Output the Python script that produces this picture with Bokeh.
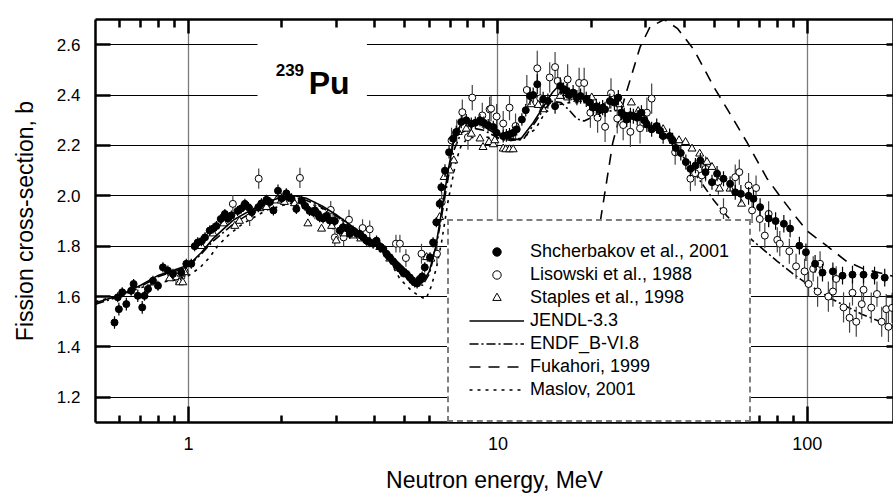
from bokeh.plotting import figure
from bokeh.models import (Range1d, FixedTicker, LinearAxis, LogAxis, Legend, LegendItem,
                          Label, BoxAnnotation, BasicTickFormatter, NumeralTickFormatter)
from bokeh.embed import file_html
from bokeh.resources import INLINE

FONT = "Liberation Sans"
SOLID = "1000 0"

# ---------------- axes / ticks ----------------
x_start, x_end = 0.5, 190
y_start, y_end = 1.1, 2.7
x_ticks = [1, 10, 100]
x_minor = [0.6, 0.7, 0.8, 0.9, 2, 3, 4, 5, 6, 7, 8, 9, 20, 30, 40, 50, 60, 70, 80, 90]
y_ticks = [1.2, 1.4, 1.6, 1.8, 2.0, 2.2, 2.4, 2.6]

# ---------------- Shcherbakov et al., 2001 ----------------
sh_e = [0.576, 0.59, 0.595, 0.61, 0.629, 0.652, 0.664, 0.685, 0.708, 0.72,
        0.739, 0.767, 0.796, 0.826, 0.857, 0.89, 0.947, 0.983, 1.02, 1.046,
        1.07, 1.10, 1.13, 1.17, 1.20, 1.23, 1.27, 1.31, 1.34, 1.375,
        1.44, 1.48, 1.52, 1.56, 1.60, 1.68, 1.72, 1.785, 1.83, 1.88,
        1.945, 2.0, 2.07, 2.1, 2.15, 2.23, 2.32, 2.38, 2.46, 2.53,
        2.56, 2.62, 2.65, 2.72, 2.79, 2.86, 2.97, 3.08, 3.16, 3.25,
        3.32, 3.4, 3.5, 3.57, 3.67, 3.76, 3.85, 3.95, 4.05, 4.15,
        4.26, 4.36, 4.47, 4.58, 4.7, 4.82, 4.94, 5.06, 5.19, 5.28,
        5.38, 5.48, 5.59, 5.69, 5.8, 6.03, 6.17, 6.32, 6.48, 6.56,
        6.74, 6.95, 7.16, 7.33, 7.61, 7.9, 8.2, 8.45, 8.75, 9.0,
        9.3, 9.66, 9.9, 10.4, 10.65, 10.9, 11.2, 11.5, 11.95, 12.3,
        12.7, 13.0, 13.4, 14.0, 14.5, 15.3, 15.9, 16.3, 16.7, 17.0,
        17.5, 18.0, 18.5, 19.3, 19.8, 20.3, 20.8, 21.3, 21.8, 22.2,
        23.0, 23.8, 24.5, 25.1, 25.6, 26.1, 26.8, 27.4, 28.2, 29.1,
        29.7, 30.3, 31.4, 32.6, 33.3, 34.2, 35.9, 36.7, 37.6, 39.0,
        40.5, 41.9, 43.5, 45.1, 46.9, 49.2, 51.1, 53.6, 56.3, 58.5,
        61.0, 64.6, 67.0, 70.4, 75.0, 79.0, 84.0, 88.0, 94.3, 99.0,
        106, 112, 121, 130, 140, 152, 165, 178]
sh_s = [1.497, 1.597, 1.55, 1.617, 1.57, 1.623, 1.65, 1.603, 1.557, 1.603,
        1.63, 1.663, 1.643, 1.716, 1.703, 1.69, 1.696, 1.73, 1.73, 1.80,
        1.815, 1.82, 1.835, 1.862, 1.87, 1.88, 1.908, 1.928, 1.91, 1.922,
        1.94, 1.95, 1.968, 1.955, 1.935, 1.955, 1.97, 1.984, 1.975, 1.942,
        2.02, 1.99, 2.01, 1.995, 1.99, 1.948, 1.98, 1.96, 1.94, 1.935,
        1.94, 1.928, 1.915, 1.91, 1.92, 1.902, 1.90, 1.862, 1.875, 1.87,
        1.849, 1.862, 1.85, 1.849, 1.835, 1.822, 1.816, 1.81, 1.822, 1.80,
        1.789, 1.77, 1.756, 1.74, 1.723, 1.71, 1.696, 1.69, 1.676, 1.665,
        1.656, 1.652, 1.67, 1.68, 1.716, 1.756, 1.815, 1.895, 1.968, 2.034,
        2.10, 2.173, 2.227, 2.253, 2.293, 2.30, 2.286, 2.29, 2.30, 2.29,
        2.28, 2.273, 2.25, 2.237, 2.24, 2.244, 2.25, 2.264, 2.303, 2.34,
        2.396, 2.40, 2.443, 2.383, 2.376, 2.356, 2.436, 2.42, 2.416, 2.40,
        2.41, 2.39, 2.396, 2.383, 2.37, 2.35, 2.355, 2.343, 2.35, 2.343,
        2.376, 2.37, 2.39, 2.33, 2.32, 2.303, 2.32, 2.316, 2.31, 2.33,
        2.30, 2.283, 2.264, 2.277, 2.26, 2.237, 2.237, 2.22, 2.19, 2.17,
        2.134, 2.107, 2.12, 2.14, 2.094, 2.054, 2.088, 2.068, 2.048, 2.014,
        2.008, 2.0, 1.988, 1.955, 1.91, 1.90, 1.889, 1.87, 1.802, 1.776,
        1.73, 1.695, 1.70, 1.683, 1.687, 1.687, 1.683, 1.675]
sh_err = [0.025, 0.02, 0.025, 0.02, 0.025, 0.02, 0.02, 0.025, 0.025, 0.02,
          0.02, 0.02, 0.02, 0.02, 0.02, 0.02, 0.02, 0.02, 0.02, 0.02,
          0.02, 0.02, 0.02, 0.02, 0.02, 0.02, 0.02, 0.02, 0.02, 0.02,
          0.02, 0.02, 0.02, 0.02, 0.02, 0.02, 0.02, 0.02, 0.02, 0.02,
          0.025, 0.02, 0.02, 0.02, 0.02, 0.02, 0.02, 0.02, 0.02, 0.02,
          0.02, 0.02, 0.02, 0.02, 0.02, 0.02, 0.02, 0.02, 0.02, 0.02,
          0.02, 0.02, 0.02, 0.02, 0.02, 0.02, 0.02, 0.02, 0.02, 0.02,
          0.02, 0.02, 0.02, 0.02, 0.02, 0.02, 0.02, 0.02, 0.02, 0.02,
          0.02, 0.02, 0.02, 0.02, 0.02, 0.02, 0.02, 0.02, 0.02, 0.02,
          0.025, 0.025, 0.025, 0.025, 0.025, 0.025, 0.025, 0.025, 0.025, 0.025,
          0.025, 0.025, 0.025, 0.025, 0.025, 0.025, 0.025, 0.025, 0.025, 0.025,
          0.035, 0.03, 0.04, 0.03, 0.03, 0.03, 0.035, 0.03, 0.03, 0.03,
          0.03, 0.03, 0.03, 0.03, 0.03, 0.03, 0.03, 0.03, 0.03, 0.03,
          0.03, 0.03, 0.03, 0.03, 0.03, 0.03, 0.03, 0.03, 0.03, 0.03,
          0.03, 0.03, 0.03, 0.03, 0.03, 0.03, 0.03, 0.03, 0.03, 0.03,
          0.03, 0.03, 0.03, 0.03, 0.03, 0.03, 0.03, 0.03, 0.03, 0.03,
          0.035, 0.035, 0.035, 0.035, 0.035, 0.035, 0.035, 0.035, 0.035, 0.035,
          0.035, 0.035, 0.035, 0.035, 0.035, 0.035, 0.035, 0.035]

# ---------------- Lisowski et al., 1988 ----------------
li_e = [0.91, 0.97, 1.39, 1.575, 1.685, 2.29, 2.56, 2.88, 2.93, 2.97,
        3.16, 3.17, 3.3, 3.65, 3.85, 4.68, 4.82, 5.04, 5.66, 6.35,
        6.58, 7.08, 7.36, 7.67, 8.0, 8.26, 8.9, 9.4, 9.5, 9.9,
        10.4, 10.9, 11.4, 12.4, 13.4, 13.7, 14.7, 15.3, 15.6, 16.8,
        18.3, 19.0, 19.9, 21.0, 22.2, 23.2, 24.3, 25.4, 26.8, 28.8,
        30.3, 31.4, 37.4, 41.9, 43.4, 45.6, 46.9, 51.6, 53.6, 58.5,
        60.3, 64.6, 66.3, 68.3, 70.2, 72.9, 75.0, 80.0, 81.5, 87.5,
        92.0, 98.0, 101, 104.5, 108, 110, 117, 121, 124, 131,
        137, 140, 144, 150, 152, 161, 168, 174, 180, 183,
        188]
li_s = [1.68, 1.70, 1.968, 1.915, 2.068, 2.071, 1.942, 1.944, 1.90, 1.835,
        1.875, 1.835, 1.905, 1.872, 1.867, 1.81, 1.81, 1.753, 1.77, 1.77,
        1.975, 2.22, 2.253, 2.332, 2.233, 2.39, 2.319, 2.343, 2.346, 2.315,
        2.287, 2.35, 2.277, 2.42, 2.506, 2.387, 2.47, 2.511, 2.456, 2.462,
        2.448, 2.448, 2.33, 2.31, 2.274, 2.407, 2.307, 2.281, 2.254, 2.268,
        2.33, 2.386, 2.173, 2.068, 2.09, 2.081, 2.107, 2.054, 1.94, 2.074,
        2.094, 2.041, 1.942, 2.031, 1.908, 1.842, 1.928, 1.825, 1.81, 1.78,
        1.72, 1.70, 1.65, 1.71, 1.62, 1.73, 1.60, 1.62, 1.67, 1.557,
        1.516, 1.615, 1.50, 1.57, 1.627, 1.556, 1.61, 1.50, 1.55, 1.48,
        1.555]
li_err = [0.03, 0.03, 0.035, 0.035, 0.04, 0.04, 0.035, 0.035, 0.035, 0.035,
          0.035, 0.035, 0.04, 0.035, 0.035, 0.035, 0.035, 0.035, 0.04, 0.04,
          0.04, 0.05, 0.05, 0.05, 0.05, 0.05, 0.05, 0.05, 0.05, 0.05,
          0.05, 0.05, 0.05, 0.06, 0.07, 0.06, 0.06, 0.06, 0.06, 0.06,
          0.06, 0.06, 0.06, 0.06, 0.06, 0.06, 0.06, 0.06, 0.06, 0.06,
          0.06, 0.06, 0.05, 0.05, 0.05, 0.05, 0.05, 0.05, 0.05, 0.05,
          0.05, 0.05, 0.05, 0.05, 0.05, 0.05, 0.05, 0.05, 0.05, 0.05,
          0.05, 0.05, 0.05, 0.05, 0.06, 0.05, 0.06, 0.06, 0.05, 0.06,
          0.06, 0.05, 0.06, 0.06, 0.05, 0.06, 0.05, 0.06, 0.06, 0.06,
          0.06]

# ---------------- Staples et al., 1998 ----------------
st_e = [0.868, 0.935, 0.947, 0.958, 0.97, 1.1, 1.2, 1.3, 1.41, 1.46,
        1.60, 1.7, 1.785, 1.92, 1.995, 2.04, 2.2, 2.43, 2.69, 2.9,
        3.0, 3.2, 3.4, 3.6, 3.85, 4.15, 4.47, 5.0, 5.5, 5.88,
        6.07, 6.48, 6.7, 7.0, 7.2, 7.44, 7.9, 8.2, 8.75, 8.95,
        9.36, 9.66, 9.77, 10.4, 10.6, 10.9, 11.2, 12.8, 13.5, 14.0,
        15.9, 16.8, 18.1, 20.1, 22.0, 24.8, 27.0, 28.4, 30.0, 32.0,
        34.2, 37.0, 38.5, 40.4, 42.4, 44.9, 47.4, 49.2, 52.0, 56.3,
        61.3]
st_s = [1.672, 1.656, 1.69, 1.656, 1.696, 1.80, 1.85, 1.89, 1.88, 1.90,
        1.942, 1.95, 1.955, 1.981, 1.981, 1.975, 1.97, 1.89, 1.869, 1.88,
        1.822, 1.85, 1.842, 1.83, 1.816, 1.796, 1.75, 1.69, 1.66, 1.756,
        1.75, 1.915, 2.074, 2.10, 2.14, 2.253, 2.266, 2.246, 2.227, 2.193,
        2.213, 2.204, 2.22, 2.187, 2.184, 2.184, 2.184, 2.363, 2.36, 2.343,
        2.396, 2.39, 2.383, 2.39, 2.35, 2.363, 2.37, 2.336, 2.30, 2.27,
        2.264, 2.22, 2.22, 2.213, 2.187, 2.167, 2.134, 2.114, 2.028, 2.028,
        1.968]

# ---------------- evaluations ----------------
jendl_e = [0.5, 0.6, 0.7, 0.8, 0.9, 1.0, 1.1, 1.2, 1.3, 1.4, 1.6, 1.8, 2.0, 2.2, 2.4,
           2.7, 3.0, 3.5, 4.0, 4.5, 5.0, 5.4, 5.7, 6.0, 6.3, 6.6, 6.9, 7.2, 7.6, 8.1,
           8.9, 9.7, 10.6, 11.8, 13.0, 14.0, 15.0, 15.8, 16.5, 17.3, 18.3, 20.0]
jendl_s = [1.575, 1.605, 1.645, 1.685, 1.705, 1.725, 1.775, 1.83, 1.87, 1.905, 1.945, 1.975, 1.995, 2.0, 1.99,
           1.96, 1.925, 1.865, 1.81, 1.765, 1.71, 1.665, 1.655, 1.70, 1.80, 1.95, 2.10, 2.22, 2.286, 2.30,
           2.28, 2.25, 2.228, 2.223, 2.29, 2.352, 2.41, 2.44, 2.435, 2.41, 2.39, 2.38]

endf_e = [0.5, 0.6, 0.7, 0.8, 0.9, 1.0, 1.1, 1.2, 1.4, 1.6, 1.8, 2.0, 2.3, 2.6, 3.0,
          3.5, 4.0, 4.5, 5.0, 5.4, 5.7, 6.0, 6.3, 6.6, 6.9, 7.2, 7.6, 8.2, 9.0, 10.0,
          11.0, 12.1, 13.0, 14.0, 15.0, 16.0, 17.0, 18.0, 19.0, 20.0, 22.0, 25.0, 30.0, 35.0, 40.0,
          45.0, 50.0, 55.0, 60.0, 70.0, 80.0, 90.0, 100, 120, 150, 190]
endf_s = [1.57, 1.60, 1.64, 1.68, 1.70, 1.72, 1.77, 1.82, 1.89, 1.935, 1.965, 1.985, 1.99, 1.965, 1.92,
          1.86, 1.805, 1.76, 1.70, 1.655, 1.645, 1.69, 1.79, 1.93, 2.07, 2.18, 2.25, 2.27, 2.26, 2.23,
          2.22, 2.225, 2.28, 2.34, 2.375, 2.37, 2.34, 2.305, 2.297, 2.31, 2.335, 2.34, 2.29, 2.23, 2.15,
          2.06, 1.98, 1.92, 1.87, 1.80, 1.74, 1.69, 1.65, 1.59, 1.53, 1.48]

fuka_e = [19.5, 20.5, 21.5, 23.5, 25.7, 28.8, 31.0, 34.5, 38.0, 43.0, 50.0, 56.0, 64.0, 74.0,
          82.0, 90.0, 100, 116, 134, 152, 177, 190]
fuka_s = [1.45, 1.68, 1.91, 2.21, 2.39, 2.59, 2.67, 2.70, 2.665, 2.58, 2.43, 2.33, 2.21, 2.07,
          1.995, 1.93, 1.86, 1.80, 1.74, 1.71, 1.69, 1.68]

maslov_e = [0.5, 0.6, 0.7, 0.8, 0.9, 1.0, 1.09, 1.17, 1.24, 1.34, 1.5, 1.8, 2.2, 2.6, 3.0,
            3.5, 4.0, 4.5, 4.82, 5.26, 5.6, 5.85, 6.1, 6.33, 6.57, 6.74, 6.9, 7.08, 7.33, 7.61,
            8.0, 9.0, 10.0, 11.0, 12.0, 13.2, 14.2, 15.5, 17.0, 20.0]
maslov_s = [1.58, 1.605, 1.635, 1.655, 1.665, 1.683, 1.716, 1.756, 1.80, 1.842, 1.89, 1.945, 1.975, 1.96, 1.92,
            1.86, 1.80, 1.735, 1.67, 1.623, 1.60, 1.59, 1.643, 1.716, 1.815, 1.90, 1.98, 2.048, 2.14, 2.20,
            2.23, 2.235, 2.225, 2.22, 2.23, 2.264, 2.33, 2.36, 2.37, 2.37]

legend_labels = ["Shcherbakov et al., 2001", "Lisowski et al., 1988", "Staples et al., 1998",
                 "JENDL-3.3", "ENDF_B-VI.8", "Fukahori, 1999", "Maslov, 2001"]
x_label = "Neutron energy, MeV"
y_label = "Fission cross-section, b"

# ---------------- figure ----------------
p = figure(width=893, height=499, x_axis_type="log",
           x_range=Range1d(x_start, x_end), y_range=Range1d(y_start, y_end),
           output_backend="svg", toolbar_location=None,
           min_border_left=95, min_border_top=19, min_border_bottom=77, min_border_right=0)
p.background_fill_color = "white"
p.border_fill_color = "white"
p.outline_line_color = None


def style_axis(ax, major_in, minor_in):
    ax.axis_line_color = "black"
    ax.axis_line_width = 2.5
    ax.axis_line_dash = SOLID
    ax.major_tick_line_color = "black"
    ax.major_tick_line_width = 2.5
    ax.major_tick_line_dash = SOLID
    ax.minor_tick_line_color = "black"
    ax.minor_tick_line_width = 2.5
    ax.minor_tick_line_dash = SOLID
    ax.major_tick_in = major_in
    ax.major_tick_out = 0
    ax.minor_tick_in = minor_in
    ax.minor_tick_out = 0


xa = p.xaxis[0]
xa.ticker = FixedTicker(ticks=x_ticks, minor_ticks=x_minor)
xa.formatter = BasicTickFormatter()
style_axis(xa, 16, 7)
xa.major_label_text_font = FONT
xa.major_label_text_font_size = "18px"
xa.major_label_text_color = "black"
xa.major_label_standoff = 14
xa.axis_label = x_label
xa.axis_label_text_font = FONT
xa.axis_label_text_font_size = "23px"
xa.axis_label_text_font_style = "normal"
xa.axis_label_text_color = "black"
xa.axis_label_standoff = 14

ya = p.yaxis[0]
ya.ticker = FixedTicker(ticks=y_ticks, minor_ticks=[])
ya.formatter = NumeralTickFormatter(format="0.0")
style_axis(ya, 15, 0)
ya.major_label_text_font = FONT
ya.major_label_text_font_size = "17px"
ya.major_label_text_color = "black"
ya.major_label_standoff = 15
ya.axis_label = y_label
ya.axis_label_text_font = FONT
ya.axis_label_text_font_size = "23px"
ya.axis_label_text_font_style = "normal"
ya.axis_label_text_color = "black"
ya.axis_label_standoff = 16

top = LogAxis(ticker=FixedTicker(ticks=x_ticks, minor_ticks=x_minor),
              formatter=BasicTickFormatter(), major_label_standoff=0,
              major_label_text_font_size="1px", major_label_text_color=None)
style_axis(top, 14, 8)
p.add_layout(top, "above")
right = LinearAxis(ticker=FixedTicker(ticks=y_ticks, minor_ticks=[]),
                   formatter=BasicTickFormatter(), major_label_standoff=0,
                   major_label_text_font_size="1px", major_label_text_color=None)
style_axis(right, 7, 0)
p.add_layout(right, "right")

p.xgrid.grid_line_color = "#7a7a7a"
p.xgrid.grid_line_width = 1.3
p.xgrid.grid_line_dash = SOLID
p.ygrid.grid_line_color = "black"
p.ygrid.grid_line_width = 1
p.ygrid.grid_line_dash = SOLID

# label box & isotope label
p.add_layout(BoxAnnotation(left=1.67, right=3.77, bottom=2.37, top=2.65,
                           fill_color="white", fill_alpha=1, line_alpha=0))
p.add_layout(Label(x=1.912, y=2.50, text="239", text_font=FONT, text_font_size="17px",
                   text_font_style="bold", text_baseline="alphabetic", text_color="black"))
p.add_layout(Label(x=2.445, y=2.447, text="Pu", text_font=FONT, text_font_size="32px",
                   text_font_style="bold", text_baseline="alphabetic", text_color="black"))

# dashed evaluation curves first, solid glyphs afterwards
r_fuka = p.line(fuka_e, fuka_s, line_color="black", line_width=1.6, line_dash="11 8")
r_endf = p.line(endf_e, endf_s, line_color="black", line_width=1.6, line_dash="9 3 2 3")
r_mas = p.line(maslov_e, maslov_s, line_color="black", line_width=1.6, line_dash="3 5")

p.segment(x0=li_e, y0=[s - e for s, e in zip(li_s, li_err)], x1=li_e,
          y1=[s + e for s, e in zip(li_s, li_err)], line_color="#444444", line_width=1.2,
          line_dash=SOLID)
r_li = p.scatter(li_e, li_s, marker="circle", size=7, fill_color="white",
                 line_color="black", line_width=1, line_dash=SOLID)
r_st = p.scatter(st_e, st_s, marker="triangle", size=8, fill_color="white",
                 line_color="black", line_width=1, line_dash=SOLID)
p.segment(x0=sh_e, y0=[s - e for s, e in zip(sh_s, sh_err)], x1=sh_e,
          y1=[s + e for s, e in zip(sh_s, sh_err)], line_color="black", line_width=1.2,
          line_dash=SOLID)
r_sh = p.scatter(sh_e, sh_s, marker="circle", size=7, fill_color="black",
                 line_color="black", line_width=1, line_dash=SOLID)
r_jendl = p.line(jendl_e, jendl_s, line_color="black", line_width=1.6, line_dash=SOLID)

renderers = [r_sh, r_li, r_st, r_jendl, r_endf, r_fuka, r_mas]
legend = Legend(items=[LegendItem(label=l, renderers=[r]) for l, r in zip(legend_labels, renderers)],
                location=(352, 0), label_text_font=FONT, label_text_font_size="18px",
                label_text_color="black", glyph_width=55, glyph_height=21, label_height=21,
                label_standoff=6, spacing=2, padding=20, margin=0,
                border_line_color="black", border_line_width=2, border_line_dash=SOLID,
                background_fill_color="white", background_fill_alpha=1)
p.add_layout(legend)

open("out.html", "w").write(file_html(p, INLINE))
